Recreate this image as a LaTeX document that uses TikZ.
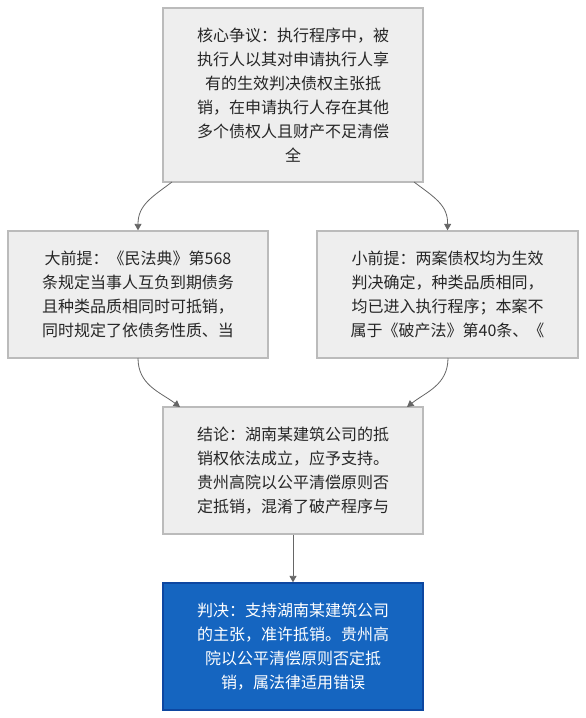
\documentclass[tikz,border=0pt]{standalone}
\usepackage{fontspec}
\setmainfont{Noto Sans CJK SC}
\usetikzlibrary{arrows.meta}
\definecolor{boxfill}{HTML}{EEEEEE}
\definecolor{boxline}{HTML}{BBBBBB}
\definecolor{verdfill}{HTML}{1565C0}
\definecolor{verdline}{HTML}{0D47A1}
\definecolor{arrcol}{HTML}{666666}
\begin{document}
\begin{tikzpicture}[x=1pt,y=-1pt,
  box/.style={draw=boxline,fill=boxfill,line width=1.3pt,align=center,inner sep=0pt,
    font=\fontsize{16}{24}\selectfont,text=black!85},
  verd/.style={box,draw=verdline,fill=verdfill,text=white},
  conn/.style={draw=arrcol,line width=0.8pt,-{Triangle[width=7pt,length=6.5pt]}}]
\path[use as bounding box,fill=white] (0,0) rectangle (586,718);
\node[box,minimum width=260pt,minimum height=174pt] (top) at (293,95)
  {核心争议：执行程序中，被\\执行人以其对申请执行人享\\有的生效判决债权主张抵\\销，在申请执行人存在其他\\多个债权人且财产不足清偿\\全};
\node[box,minimum width=260pt,minimum height=127pt] (left) at (138,294.5)
  {大前提：《民法典》第568\\条规定当事人互负到期债务\\且种类品质相同时可抵销，\\同时规定了依债务性质、当};
\node[box,minimum width=261pt,minimum height=127pt] (right) at (447.5,294.5)
  {小前提：两案债权均为生效\\判决确定，种类品质相同，\\均已进入执行程序；本案不\\属于《破产法》第40条、《};
\node[box,minimum width=260pt,minimum height=127pt] (conc) at (293,470.5)
  {结论：湖南某建筑公司的抵\\销权依法成立，应予支持。\\贵州高院以公平清偿原则否\\定抵销，混淆了破产程序与};
\node[verd,minimum width=260pt,minimum height=127pt] (verd) at (293,646.5)
  {判决：支持湖南某建筑公司\\的主张，准许抵销。贵州高\\院以公平清偿原则否定抵\\销，属法律适用错误};
\coordinate (t1) at (172,182);
\coordinate (t2) at (414,182);
\coordinate (l1) at (138,358);
\coordinate (r1) at (448,358);
\draw[conn] (t1) .. controls (152,197) and (138,205) .. (left.north);
\draw[conn] (t2) .. controls (434,197) and (448,205) .. (right.north);
\draw[conn] (l1) .. controls (138,385) and (160,392) .. (180,407);
\draw[conn] (r1) .. controls (448,385) and (426,392) .. (407,407);
\draw[conn] (conc.south) -- (verd.north);
\end{tikzpicture}
\end{document}
